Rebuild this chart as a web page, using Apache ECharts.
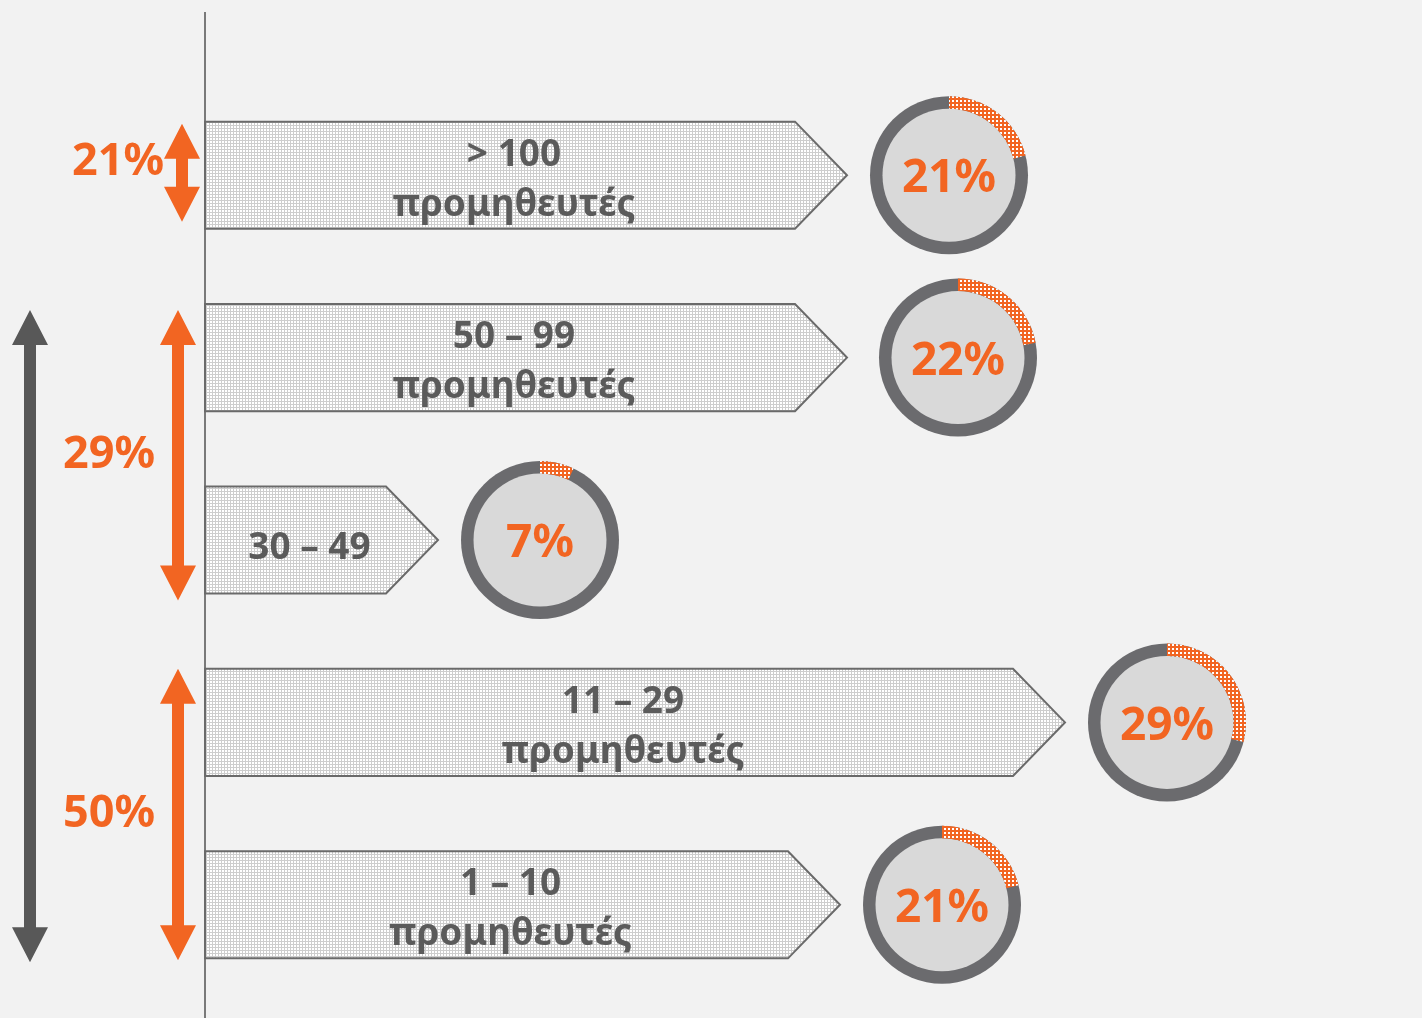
<!DOCTYPE html>
<html><head><meta charset="utf-8">
<script src="https://cdn.jsdelivr.net/npm/echarts@6/dist/echarts.min.js"></script>
<style>html,body{margin:0;padding:0;background:#f2f2f2}#c{width:1422px;height:1018px}</style>
</head><body><div id="c"></div>
<script>
// ---- data ----
const categories = ['> 100\nπρομηθευτές', '50 – 99\nπρομηθευτές', '30 – 49', '11 – 29\nπρομηθευτές', '1 – 10\nπρομηθευτές'];
const barLengths = [642, 642, 233, 860, 635];
const shares = [21, 22, 7, 29, 21];
const groupLabels = ['21%', '29%', '50%'];
const groupStart = [0, 1, 3];
const groupEnd = [0, 2, 4];
const totalStart = 1, totalEnd = 4;

// ---- style ----
const ORANGE = '#f26522';
const GRID_LEFT = 205;
const donutDx = [102, 111, 102, 102, 102];
const groupStyle = [
  {dx: -23, labelX: 118, labelDy: -11, topPad: 2, botPad: -7},
  {dx: -27, labelX: 109, labelDy: 0, topPad: 6, botPad: 7},
  {dx: -27, labelX: 109, labelDy: 0, topPad: 0, botPad: 2}
];

function makePattern(bg, fg, size, dot) {
  const c = document.createElement('canvas');
  c.width = size; c.height = size;
  const g = c.getContext('2d');
  g.fillStyle = bg; g.fillRect(0, 0, size, size);
  g.fillStyle = fg; g.fillRect(0, 0, dot, dot);
  return {image: c, repeat: 'repeat'};
}
const barPattern = makePattern('#cdcdcd', '#ffffff', 3, 2);
const orangePattern = makePattern(ORANGE, '#ffffff', 4, 2);

function barGeom(api, v, i) {
  const tip = api.coord([v, i]);
  const start = api.coord([0, i]);
  const band = api.size([0, 1])[1];
  const h = band * 0.587;
  return {tip, start, h, top: tip[1] - h / 2, bot: tip[1] + h / 2};
}

function doubleArrow(x, top, bot, color, headW, headH, shaftW) {
  const hw = headW / 2, sw = shaftW / 2;
  return {type: 'polygon', shape: {points: [
    [x, top], [x + hw, top + headH], [x + sw, top + headH], [x + sw, bot - headH], [x + hw, bot - headH],
    [x, bot], [x - hw, bot - headH], [x - sw, bot - headH], [x - sw, top + headH], [x - hw, top + headH]
  ]}, style: {fill: color}};
}

const chart = echarts.init(document.getElementById('c'));
chart.setOption({
  backgroundColor: '#f2f2f2',
  animation: false,
  grid: {left: GRID_LEFT, right: 0, top: 84, height: 912},
  xAxis: {type: 'value', min: 0, max: 1217, show: false},
  yAxis: {type: 'category', data: categories, inverse: true, show: false},
  graphic: [{type: 'line', shape: {x1: GRID_LEFT, y1: 12, x2: GRID_LEFT, y2: 1018}, style: {stroke: '#7a7a7a', lineWidth: 2}, z: 0}],
  series: [
    {
      type: 'custom', z: 2,
      data: barLengths.map((v, i) => [v, i]),
      renderItem: function (params, api) {
        const i = api.value(1);
        const g = barGeom(api, api.value(0), i);
        const tipLen = 52;
        const pts = [[g.start[0], g.top], [g.tip[0] - tipLen, g.top], [g.tip[0], g.tip[1]], [g.tip[0] - tipLen, g.bot], [g.start[0], g.bot]];
        const txt = categories[i];
        const single = txt.indexOf('\n') < 0;
        return {type: 'group', children: [
          {type: 'polygon', shape: {points: pts}, style: {fill: barPattern, stroke: '#6a6a6a', lineWidth: 2}},
          {type: 'text', style: {text: txt, x: (g.start[0] + g.tip[0]) / 2 - 12, y: g.tip[1] + (single ? 8 : 5),
            align: 'center', verticalAlign: 'middle', font: 'bold 37px "Noto Sans"', fill: '#5b5b5b', lineHeight: 50}}
        ]};
      }
    },
    {
      type: 'custom', z: 3,
      data: barLengths.map((v, i) => [v, i, shares[i]]),
      renderItem: function (params, api) {
        const i = api.value(1);
        const g = barGeom(api, api.value(0), i);
        const p = api.value(2);
        const cx = g.tip[0] + donutDx[i], cy = g.tip[1];
        const a0 = -Math.PI / 2;
        return {type: 'group', children: [
          {type: 'circle', shape: {cx, cy, r: 79}, style: {fill: '#6b6b6e'}},
          {type: 'circle', shape: {cx, cy, r: 66.5}, style: {fill: '#d9d9d9'}},
          {type: 'sector', shape: {cx, cy, r: 79, r0: 66.5, startAngle: a0, endAngle: a0 + 2 * Math.PI * p / 100, clockwise: true}, style: {fill: orangePattern}},
          {type: 'text', style: {text: p + '%', x: cx, y: cy + 4, align: 'center', verticalAlign: 'middle', font: 'bold 46px "Noto Sans"', fill: ORANGE}}
        ]};
      }
    },
    {
      type: 'custom', z: 4,
      data: groupLabels.map((l, k) => [groupStart[k], groupEnd[k], k]),
      renderItem: function (params, api) {
        const k = api.value(2);
        const s = groupStyle[k];
        const a = barGeom(api, 0, api.value(0));
        const b = barGeom(api, 0, api.value(1));
        const top = a.top + s.topPad, bot = b.bot + s.botPad;
        const x = a.start[0] + s.dx;
        return {type: 'group', children: [
          doubleArrow(x, top, bot, ORANGE, 36, 35, 12),
          {type: 'text', style: {text: groupLabels[k], x: s.labelX, y: (top + bot) / 2 + s.labelDy,
            align: 'center', verticalAlign: 'middle', font: 'bold 45px "Noto Sans"', fill: ORANGE}}
        ]};
      }
    },
    {
      type: 'custom', z: 4,
      data: [[totalStart, totalEnd]],
      renderItem: function (params, api) {
        const a = barGeom(api, 0, api.value(0));
        const b = barGeom(api, 0, api.value(1));
        return doubleArrow(a.start[0] - 175, a.top + 6, b.bot + 4, '#585858', 36, 35, 12);
      }
    }
  ]
});
</script>
</body></html>
